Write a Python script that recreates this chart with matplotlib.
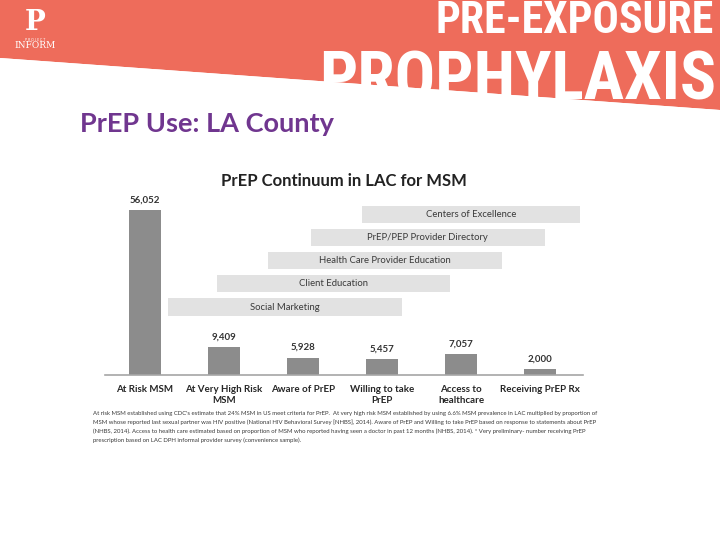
import matplotlib.pyplot as plt
from matplotlib.patches import Polygon

plt.rcParams['font.family'] = ['Lato', 'DejaVu Sans']

# continuum bars
stages = ["At Risk MSM", "At Very High Risk\nMSM", "Aware of PrEP",
          "Willing to take\nPrEP", "Access to\nhealthcare", "Receiving PrEP Rx"]
counts = [56052, 9409, 5928, 5457, 7057, 2000]

# programme bars (start / end in stage units), bottom row first
programs = ["Social Marketing", "Client Education", "Health Care Provider Education",
            "PrEP/PEP Provider Directory", "Centers of Excellence"]
prog_start = [0.29, 0.91, 1.56, 2.10, 2.75]
prog_end = [3.25, 3.86, 4.52, 5.06, 5.51]

footnote = [
    "At risk MSM established using CDC's estimate that 24% MSM in US meet criteria for PrEP.  At very high risk MSM established by using 6.6% MSM prevalence in LAC multiplied by proportion of",
    "MSM whose reported last sexual partner was HIV positive (National HIV Behavioral Survey [NHBS], 2014). Aware of PrEP and Willing to take PrEP based on response to statements about PrEP",
    "(NHBS, 2014). Access to health care estimated based on proportion of MSM who reported having seen a doctor in past 12 months (NHBS, 2014). * Very preliminary- number receiving PrEP",
    "prescription based on LAC DPH informal provider survey (convenience sample).",
]

fig = plt.figure(figsize=(7.2, 5.4), dpi=100)

### slide background (pixel coords)
bg = fig.add_axes([0, 0, 1, 1])
bg.set_xlim(0, 720)
bg.set_ylim(540, 0)
bg.axis("off")
bg.add_patch(Polygon([(0, 0), (720, 0), (720, 110), (0, 58)], closed=True,
                     facecolor="#ee6c5b", edgecolor="none"))

narrow = ["Roboto Condensed", "DejaVu Sans"]
bg.text(714, 33, "PRE-EXPOSURE", color="white", fontsize=31.5, fontweight="bold",
        family=narrow, ha="right", va="baseline")
bg.text(716, 99, "PROPHYLAXIS", color="white", fontsize=48.5, fontweight="bold",
        family=narrow, ha="right", va="baseline")
# white below the slope cuts the bottom of the letters like on the slide
bg.add_patch(Polygon([(0, 58), (720, 110), (720, 540), (0, 540)], closed=True,
                     facecolor="white", edgecolor="none", zorder=3))

# Project Inform logo
bg.text(35, 22, "P", color="white", fontsize=20, fontweight="bold",
        family="DejaVu Serif", ha="center", va="center")
bg.text(35, 40, "P R O J E C T", color="white", fontsize=2.5, ha="center", va="center")
bg.text(35, 46, "INFORM", color="white", fontsize=6.5, family="DejaVu Serif",
        ha="center", va="center")

bg.text(80, 124, "PrEP Use: LA County", color="#70368f", fontsize=19.5,
        fontweight="bold", ha="left", va="center", zorder=4)
bg.text(344, 181, "PrEP Continuum in LAC for MSM", color="#222222", fontsize=12,
        fontweight="bold", ha="center", va="center", zorder=4)

for i, line in enumerate(footnote):
    bg.text(93, 413 + 9 * i, line, color="#3a3a3a", fontsize=4.3,
            ha="left", va="center", zorder=4)

### chart
ax = fig.add_axes([105 / 720, 165 / 540, 478 / 720, 175 / 540], zorder=5)
ax.patch.set_alpha(0)
xs = list(range(len(stages)))
ax.bar(xs, counts, width=0.405, color="#8c8c8c")
for x, v in zip(xs, counts):
    ax.annotate(f"{v:,}", (x, v), xytext=(0, 4), textcoords="offset points",
                ha="center", va="bottom", fontsize=7, fontweight="bold", color="#333333")
ax.set_xlim(-40 / 79, -40 / 79 + 478 / 79)
ax.set_ylim(0, 56052 * 175 / 165)
ax.set_xticks(xs)
ax.set_xticklabels(stages, fontsize=7, fontweight="bold", color="#262626",
                   multialignment="center", linespacing=1.35)
ax.tick_params(axis="x", length=0, pad=7)
ax.set_yticks([])
for s in ["top", "right", "left"]:
    ax.spines[s].set_visible(False)
ax.spines["bottom"].set_color("#a6a6a6")
ax.spines["bottom"].set_linewidth(1.2)

ax2 = ax.twinx()
ax2.set_ylim(-2.94, 4.63)
rows = list(range(len(programs)))
widths = [e - s for s, e in zip(prog_start, prog_end)]
ax2.barh(rows, widths, left=prog_start, height=0.74, color="#e2e2e2")
for r, name, s, w in zip(rows, programs, prog_start, widths):
    ax2.text(s + w / 2, r, name, ha="center", va="center", fontsize=6.8, color="#3a3a3a")
ax2.set_yticks([])
for s in ax2.spines.values():
    s.set_visible(False)

fig.savefig("out.png", dpi=100)
